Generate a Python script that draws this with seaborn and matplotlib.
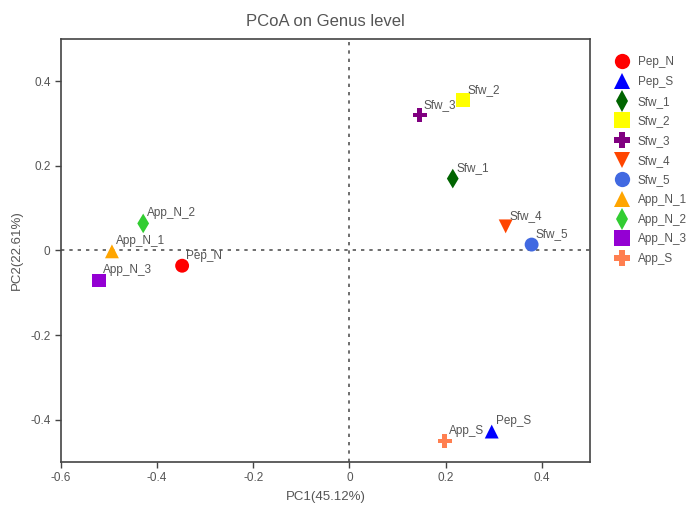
import numpy as np
import pandas as pd
import seaborn as sns
import matplotlib.pyplot as plt

samples = ['Pep_N', 'Pep_S', 'Sfw_1', 'Sfw_2', 'Sfw_3', 'Sfw_4', 'Sfw_5',
           'App_N_1', 'App_N_2', 'App_N_3', 'App_S']
pc1 = [-0.348, 0.296, 0.215, 0.237, 0.146, 0.325, 0.379,
       -0.494, -0.429, -0.521, 0.198]
pc2 = [-0.036, -0.428, 0.170, 0.355, 0.320, 0.057, 0.014,
       -0.002, 0.064, -0.071, -0.450]
colors = ['#ff0000', '#0000ff', '#006400', '#ffff00', '#800080', '#ff4500',
          '#4169e1', '#ffa500', '#32cd32', '#9400d3', '#ff7f50']
markers = ['o', '^', 'd', 's', 'P', 'v', 'o', '^', 'd', 's', 'P']

df = pd.DataFrame({'PC1': pc1, 'PC2': pc2, 'sample': samples})

sns.set_theme(style='white')
plt.rcParams['font.family'] = ['Liberation Sans', 'DejaVu Sans']

fig = plt.figure(figsize=(6.89, 5.13), dpi=100)
ax = fig.add_axes([0.0885, 0.0994, 0.7675, 0.8246])

ax.axhline(0, color='#555555', lw=1.2, ls=(0, (2, 3)), zorder=1)
ax.axvline(0, color='#555555', lw=1.2, ls=(0, (2, 3)), zorder=1)

sns.scatterplot(data=df, x='PC1', y='PC2', hue='sample', style='sample',
                palette=dict(zip(samples, colors)),
                markers=dict(zip(samples, markers)),
                s=100, linewidth=0, ax=ax, zorder=3)

for name, x, y in zip(samples, pc1, pc2):
    ax.annotate(name, (x, y), xytext=(3, 3), textcoords='offset points',
                fontsize=8.5, color='#555555', ha='left', va='bottom')

ax.set_xlim(-0.6, 0.5)
ax.set_ylim(-0.5, 0.5)
ax.set_xticks([-0.6, -0.4, -0.2, 0, 0.2, 0.4])
ax.set_xticklabels(['-0.6', '-0.4', '-0.2', '0', '0.2', '0.4'])
ax.set_yticks([-0.4, -0.2, 0, 0.2, 0.4])
ax.set_yticklabels(['-0.4', '-0.2', '0', '0.2', '0.4'])
ax.tick_params(axis='both', direction='out', length=4, width=1,
               color='#444444', labelcolor='#555555', labelsize=8.5,
               bottom=True, left=True)
for sp in ax.spines.values():
    sp.set_color('#444444')
    sp.set_linewidth(1.2)

ax.set_xlabel('PC1(45.12%)', color='#555555', fontsize=9.5, labelpad=5)
ax.set_ylabel('PC2(22.61%)', color='#555555', fontsize=9.5, labelpad=5)
ax.set_title('PCoA on Genus level', color='#555555', fontsize=12, pad=9)

leg = ax.legend(loc='upper left', bbox_to_anchor=(1.03, 0.97), frameon=False,
                fontsize=8.5, labelspacing=0.65, handletextpad=0.3,
                borderaxespad=0, markerscale=1.1)
for t in leg.get_texts():
    t.set_color('#555555')

fig.savefig('out.png', dpi=100)
